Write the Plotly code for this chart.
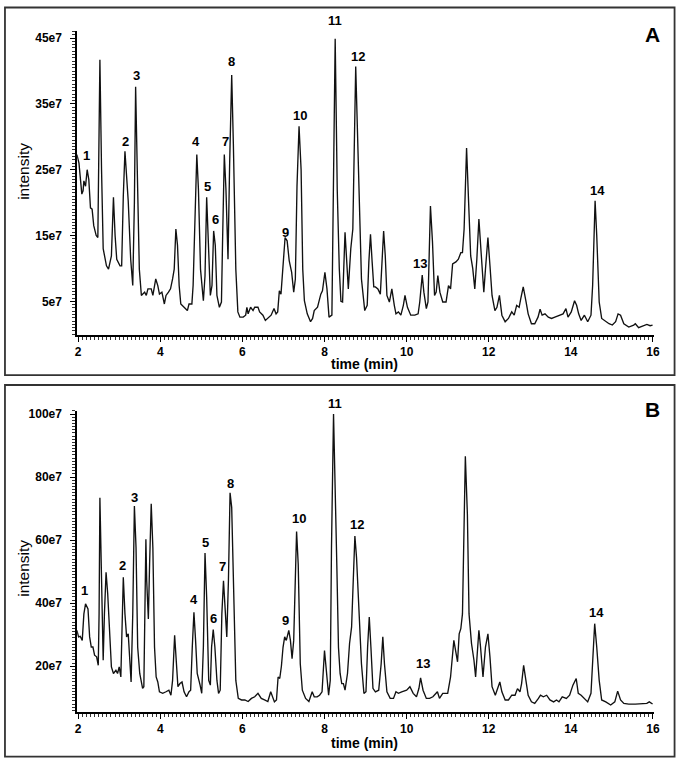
import plotly.graph_objects as go

W, H = 686, 762

# ---------------- Panel A data (intensity in units of 1e7) ----------------
time_A = [1.97, 2.02, 2.09, 2.12, 2.14, 2.18, 2.22, 2.26, 2.30, 2.34, 2.38, 2.44, 2.48, 2.53, 2.57,
          2.61, 2.69, 2.74, 2.81, 2.86, 2.90, 2.94, 3.02, 3.06, 3.10, 3.14, 3.18, 3.22, 3.28, 3.33,
          3.37, 3.40, 3.44, 3.49, 3.54, 3.62, 3.66, 3.70, 3.78, 3.82, 3.89, 3.94, 3.98, 4.04, 4.10,
          4.14, 4.20, 4.25, 4.30, 4.34, 4.38, 4.42, 4.46, 4.50, 4.58, 4.66, 4.70, 4.77, 4.80, 4.85,
          4.89, 4.93, 4.98, 5.05, 5.09, 5.13, 5.17, 5.22, 5.26, 5.30, 5.34, 5.38, 5.44, 5.49, 5.52,
          5.56, 5.60, 5.65, 5.69, 5.74, 5.78, 5.84, 5.89, 5.94, 6.02, 6.08, 6.11, 6.14, 6.20, 6.26,
          6.30, 6.38, 6.42, 6.50, 6.56, 6.64, 6.70, 6.77, 6.82, 6.86, 6.90, 6.94, 6.98, 7.04, 7.09,
          7.14, 7.20, 7.25, 7.29, 7.33, 7.38, 7.43, 7.47, 7.51, 7.58, 7.66, 7.71, 7.75, 7.83, 7.91,
          7.95, 8.01, 8.06, 8.11, 8.18, 8.22, 8.26, 8.31, 8.36, 8.40, 8.44, 8.50, 8.54, 8.58, 8.64,
          8.69, 8.76, 8.82, 8.90, 8.98, 9.04, 9.08, 9.12, 9.16, 9.20, 9.24, 9.30, 9.36, 9.40, 9.44,
          9.48, 9.52, 9.58, 9.64, 9.70, 9.74, 9.80, 9.86, 9.92, 9.96, 10.02, 10.10, 10.20, 10.28, 10.32,
          10.38, 10.42, 10.48, 10.52, 10.58, 10.63, 10.68, 10.72, 10.76, 10.81, 10.88, 10.96, 11.02, 11.07, 11.12,
          11.20, 11.26, 11.32, 11.36, 11.40, 11.46, 11.51, 11.56, 11.61, 11.66, 11.71, 11.76, 11.82, 11.88, 11.92,
          11.98, 12.03, 12.08, 12.15, 12.20, 12.26, 12.32, 12.40, 12.48, 12.56, 12.62, 12.68, 12.74, 12.78, 12.84,
          12.91, 12.96, 13.04, 13.12, 13.20, 13.25, 13.30, 13.37, 13.45, 13.53, 13.61, 13.73, 13.81, 13.88, 13.93,
          14.01, 14.09, 14.14, 14.19, 14.25, 14.33, 14.41, 14.49, 14.53, 14.59, 14.63, 14.69, 14.75, 14.85, 14.93,
          15.01, 15.09, 15.15, 15.21, 15.29, 15.41, 15.53, 15.57, 15.65, 15.77, 15.85, 15.93, 15.99]
inten_A = [27.3, 26.0, 21.3, 21.8, 23.3, 22.5, 25.0, 23.5, 19.2, 19.0, 16.5, 15.0, 14.7, 41.7, 25.0,
           13.0, 10.4, 9.9, 11.9, 20.8, 15.0, 11.4, 10.4, 10.4, 21.0, 27.8, 24.0, 20.2, 11.4, 7.4,
           20.0, 37.6, 25.0, 9.9, 5.9, 6.4, 5.9, 6.9, 6.9, 5.9, 8.4, 7.4, 6.1, 6.4, 4.6,
           5.9, 6.4, 6.9, 8.4, 9.9, 16.0, 13.5, 7.4, 4.6, 4.1, 3.6, 4.6, 4.6, 7.4, 20.0,
           27.3, 22.0, 9.9, 5.1, 8.9, 20.8, 15.0, 5.9, 7.4, 15.7, 13.5, 5.9, 4.1, 4.9, 15.0,
           27.3, 22.0, 11.4, 26.0, 39.4, 29.0, 9.9, 3.4, 2.6, 2.6, 2.9, 4.1, 3.1, 4.1, 3.6,
           4.1, 4.1, 3.4, 2.9, 2.1, 2.6, 2.9, 3.9, 3.1, 3.4, 6.6, 6.1, 9.9, 14.7, 14.2,
           11.2, 9.4, 6.4, 8.4, 22.5, 31.6, 25.0, 9.9, 5.1, 3.1, 1.9, 2.4, 3.6, 4.1, 6.1,
           6.6, 9.4, 6.9, 2.6, 2.9, 25.0, 44.9, 22.0, 10.0, 5.0, 4.9, 15.5, 11.0, 6.9, 13.0,
           16.0, 40.7, 25.0, 8.4, 3.6, 4.4, 11.0, 15.2, 11.0, 7.2, 7.2, 6.9, 6.1, 11.9, 15.7,
           11.9, 5.9, 4.9, 6.9, 4.4, 3.1, 3.4, 2.9, 4.4, 5.9, 4.1, 2.9, 2.9, 3.1, 4.9,
           9.0, 6.4, 3.9, 4.9, 19.5, 14.0, 5.9, 6.4, 8.9, 6.4, 4.9, 4.9, 7.4, 6.9, 10.7,
           11.0, 11.4, 12.4, 12.4, 16.0, 28.3, 20.0, 11.9, 10.0, 6.9, 11.4, 17.5, 11.9, 6.4, 9.9,
           14.7, 10.4, 5.9, 3.6, 4.1, 5.9, 2.9, 1.9, 2.4, 3.4, 2.9, 4.4, 4.1, 5.4, 7.2,
           4.9, 3.1, 1.6, 1.6, 2.6, 3.8, 2.9, 3.1, 2.6, 2.4, 2.6, 2.9, 3.1, 3.9, 2.6,
           3.4, 5.1, 4.4, 3.1, 2.1, 2.9, 1.9, 2.9, 7.4, 20.3, 15.0, 4.9, 2.4, 1.9, 1.6,
           1.4, 1.9, 3.1, 2.9, 1.6, 1.1, 1.4, 1.6, 1.0, 1.3, 1.5, 1.3, 1.4]

# ---------------- Panel B data (intensity in units of 1e7) ----------------
time_B = [1.97, 2.01, 2.05, 2.10, 2.14, 2.18, 2.24, 2.28, 2.32, 2.36, 2.40, 2.45, 2.49, 2.51, 2.53,
          2.56, 2.61, 2.64, 2.68, 2.72, 2.77, 2.81, 2.86, 2.92, 2.96, 3.00, 3.04, 3.07, 3.10, 3.14,
          3.18, 3.22, 3.25, 3.29, 3.33, 3.37, 3.41, 3.45, 3.50, 3.57, 3.60, 3.65, 3.67, 3.71, 3.74,
          3.78, 3.82, 3.86, 3.90, 3.94, 3.98, 4.06, 4.14, 4.21, 4.26, 4.30, 4.35, 4.39, 4.43, 4.48,
          4.53, 4.58, 4.64, 4.70, 4.74, 4.78, 4.82, 4.86, 4.90, 4.97, 5.01, 5.05, 5.09, 5.13, 5.18,
          5.22, 5.25, 5.29, 5.33, 5.38, 5.42, 5.46, 5.50, 5.54, 5.58, 5.62, 5.66, 5.70, 5.74, 5.79,
          5.84, 5.90, 5.98, 6.06, 6.14, 6.22, 6.30, 6.38, 6.46, 6.54, 6.62, 6.69, 6.74, 6.78, 6.83,
          6.87, 6.91, 6.95, 6.99, 7.03, 7.07, 7.13, 7.17, 7.21, 7.25, 7.28, 7.32, 7.36, 7.41, 7.46,
          7.54, 7.62, 7.70, 7.75, 7.82, 7.88, 7.94, 8.00, 8.05, 8.10, 8.14, 8.17, 8.22, 8.26, 8.30,
          8.34, 8.38, 8.42, 8.46, 8.50, 8.56, 8.61, 8.66, 8.70, 8.74, 8.78, 8.84, 8.90, 8.96, 9.01,
          9.05, 9.09, 9.13, 9.18, 9.24, 9.32, 9.38, 9.42, 9.46, 9.52, 9.60, 9.68, 9.74, 9.80, 9.88,
          10.00, 10.08, 10.16, 10.24, 10.30, 10.34, 10.40, 10.48, 10.56, 10.64, 10.75, 10.80, 10.88, 11.00, 11.07,
          11.15, 11.20, 11.24, 11.28, 11.32, 11.36, 11.40, 11.43, 11.48, 11.52, 11.58, 11.64, 11.68, 11.72, 11.76,
          11.80, 11.86, 11.92, 11.98, 12.03, 12.08, 12.16, 12.22, 12.27, 12.32, 12.40, 12.48, 12.56, 12.64, 12.70,
          12.76, 12.80, 12.85, 12.91, 12.96, 13.04, 13.12, 13.21, 13.26, 13.33, 13.41, 13.49, 13.58, 13.65, 13.71,
          13.79, 13.89, 13.97, 14.05, 14.13, 14.18, 14.25, 14.33, 14.41, 14.49, 14.54, 14.58, 14.63, 14.69, 14.75,
          14.85, 14.97, 15.07, 15.14, 15.21, 15.29, 15.41, 15.57, 15.73, 15.85, 15.91, 15.99]
inten_B = [31.4, 29.3, 29.5, 28.2, 36.6, 39.8, 38.2, 29.3, 26.1, 26.1, 23.5, 23.0, 20.3, 36.6, 73.4,
           57.6, 21.9, 36.6, 49.8, 43.0, 27.2, 19.8, 17.7, 18.7, 17.7, 19.8, 16.6, 36.6, 48.2, 36.6,
           29.3, 30.3, 24.0, 15.0, 36.6, 70.8, 57.6, 26.1, 17.7, 13.0, 13.5, 60.3, 47.1, 35.0, 52.3,
           71.5, 57.6, 26.1, 16.6, 15.0, 11.9, 11.4, 11.9, 12.4, 10.8, 15.5, 29.8, 20.8, 13.5, 14.5,
           15.0, 11.9, 10.3, 11.9, 12.4, 26.1, 37.1, 28.2, 17.7, 14.0, 11.4, 26.1, 55.9, 41.9, 15.5,
           14.0, 26.1, 31.6, 26.1, 15.5, 11.4, 12.4, 36.6, 47.1, 38.6, 29.3, 47.1, 75.0, 70.3, 41.9,
           15.5, 9.8, 9.3, 9.3, 8.8, 9.8, 10.3, 11.4, 9.8, 9.3, 8.8, 11.9, 10.3, 8.7, 9.3,
           16.6, 16.1, 20.0, 26.0, 29.3, 28.2, 31.4, 28.2, 22.4, 28.2, 47.1, 62.7, 52.3, 20.8, 12.4,
           9.8, 8.8, 11.9, 10.3, 10.3, 10.8, 11.9, 25.0, 18.7, 10.8, 15.5, 57.6, 100.0, 78.7, 52.0,
           26.0, 17.7, 14.5, 14.5, 12.4, 17.7, 27.2, 32.5, 47.1, 61.3, 54.5, 36.6, 20.8, 11.4, 11.9,
           26.1, 35.6, 26.1, 13.0, 11.9, 12.4, 20.8, 29.3, 20.8, 11.9, 9.8, 9.8, 11.9, 11.4, 11.9,
           12.4, 13.5, 11.4, 10.3, 13.0, 16.3, 12.4, 9.8, 9.8, 10.3, 11.9, 9.8, 11.4, 11.4, 16.6,
           28.2, 25.0, 21.4, 30.3, 31.9, 36.6, 68.1, 86.6, 68.1, 36.6, 27.2, 21.9, 16.6, 26.1, 31.4,
           26.1, 16.6, 26.1, 30.3, 22.9, 13.5, 10.8, 13.5, 15.0, 11.9, 9.3, 9.3, 10.8, 10.8, 12.9,
           11.9, 14.5, 20.3, 14.5, 10.8, 8.7, 8.2, 9.8, 10.8, 10.3, 10.8, 9.3, 8.7, 9.3, 8.7,
           10.3, 9.8, 10.8, 14.0, 16.1, 11.4, 10.8, 9.8, 8.7, 11.4, 26.1, 33.5, 26.1, 15.5, 9.3,
           8.7, 7.7, 8.7, 12.1, 9.3, 8.2, 8.0, 8.0, 8.0, 8.2, 8.7, 8.0]

# ---------------- Peak labels ----------------
peak_names = [str(i) for i in range(1, 15)]
label_time_A = [2.21, 3.15, 3.41, 4.88, 5.16, 5.34, 5.58, 5.745, 7.04, 7.40, 8.26, 8.81, 10.33, 14.65]
label_val_A = [27.1, 29.3, 39.3, 29.3, 22.4, 17.5, 29.3, 41.5, 15.4, 33.3, 47.6, 42.2, 10.8, 21.8]
label_time_B = [2.15, 3.09, 3.38, 4.81, 5.10, 5.30, 5.52, 5.70, 7.04, 7.39, 8.25, 8.78, 10.40, 14.62]
label_val_B = [44.0, 51.9, 73.6, 41.3, 59.2, 35.0, 51.5, 78.1, 34.5, 66.8, 103.4, 65.0, 20.8, 37.1]

x_ticks = [2, 4, 6, 8, 10, 12, 14, 16]
y_ticks_A = [5, 15, 25, 35, 45]
y_ticks_B = [20, 40, 60, 80, 100]
y_ticktext_A = [f"{v}e7" for v in y_ticks_A]
y_ticktext_B = [f"{v}e7" for v in y_ticks_B]

FONT = "Arial, 'Liberation Sans', sans-serif"
YR_A = [-0.15, 46.1]
YR_B = [5.4, 101]
DOM_A = [1 - 333 / H, 1 - 27 / H]
DOM_B = [1 - 712 / H, 1 - 409 / H]


def px_x(p):
    return p / W


def px_y(p):
    return 1 - p / H


fig = go.Figure()
fig.add_trace(go.Scatter(x=time_A, y=inten_A, mode="lines", xaxis="x", yaxis="y",
                         line=dict(color="#111111", width=1.35), showlegend=False))
fig.add_trace(go.Scatter(x=time_B, y=inten_B, mode="lines", xaxis="x2", yaxis="y2",
                         line=dict(color="#111111", width=1.35), showlegend=False))

xcommon = dict(range=[1.975, 16.02], showline=True, linecolor="black", linewidth=1.5,
               ticks="outside", ticklen=5, tickwidth=1.3, tickcolor="black",
               tickvals=x_ticks, ticktext=[str(v) for v in x_ticks], ticklabelstandoff=0,
               tickfont=dict(family=FONT, size=12, color="black", weight="bold"),
               minor=dict(dtick=0.1, ticklen=2.5, tickwidth=0.8, tickcolor="#333", ticks="outside"),
               showgrid=False, zeroline=False, domain=[px_x(76), px_x(659.5)])
ycommon = dict(showline=True, linecolor="black", linewidth=1.5,
               ticks="outside", ticklen=5, tickwidth=1.3, tickcolor="black", ticklabelstandoff=6,
               tickfont=dict(family=FONT, size=12, color="black", weight="bold"),
               showgrid=False, zeroline=False)

fig.update_layout(
    width=W, height=H, margin=dict(l=0, r=0, t=0, b=0),
    paper_bgcolor="white", plot_bgcolor="white",
    xaxis=dict(**xcommon, anchor="y"),
    yaxis=dict(**ycommon, range=YR_A, domain=DOM_A,
               tickvals=y_ticks_A, ticktext=y_ticktext_A, anchor="x",
               minor=dict(dtick=0.5, ticklen=3.5, tickwidth=0.8, tickcolor="#333", ticks="outside")),
    xaxis2=dict(**xcommon, anchor="y2"),
    yaxis2=dict(**ycommon, range=YR_B, domain=DOM_B,
                tickvals=y_ticks_B, ticktext=y_ticktext_B, anchor="x2",
                minor=dict(dtick=1, ticklen=3.5, tickwidth=0.8, tickcolor="#333", ticks="outside")),
)

# frame boxes around each panel
for (y0, y1) in [(373, 3.5), (756.5, 383)]:
    fig.add_shape(type="rect", xref="paper", yref="paper",
                  x0=px_x(3), x1=px_x(680.5), y0=px_y(y0), y1=px_y(y1),
                  line=dict(color="#333333", width=1.8), fillcolor="rgba(0,0,0,0)")

annots = []


def add_peak_labels(names, times, vals, xref, yref, yrange, dom):
    ppu = (dom[1] - dom[0]) * H / (yrange[1] - yrange[0])  # pixels per unit
    top = yrange[1] - 0.5
    for name, t, v in zip(names, times, vals):
        y = min(v, top)
        annots.append(dict(x=t, y=y, xref=xref, yref=yref, text=name, showarrow=False,
                           xanchor="center", yanchor="middle", yshift=(v - y) * ppu,
                           font=dict(family=FONT, size=13, color="black", weight="bold")))


add_peak_labels(peak_names, label_time_A, label_val_A, "x", "y", YR_A, DOM_A)
add_peak_labels(peak_names, label_time_B, label_val_B, "x2", "y2", YR_B, DOM_B)

for (ty, ay, panel, py) in [(168, 362, "A", 31), (567, 743, "B", 408)]:
    annots.append(dict(x=px_x(21), y=px_y(ty), xref="paper", yref="paper", text="intensity",
                       textangle=-90, showarrow=False, xanchor="center", yanchor="middle",
                       font=dict(family=FONT, size=15.5, color="black")))
    annots.append(dict(x=px_x(367), y=px_y(ay), xref="paper", yref="paper", text="time (min)",
                       showarrow=False, xanchor="center", yanchor="middle",
                       font=dict(family=FONT, size=14, color="black", weight="bold")))
    annots.append(dict(x=px_x(658), y=px_y(py), xref="paper", yref="paper", text=panel,
                       showarrow=False, xanchor="center", yanchor="middle",
                       font=dict(family=FONT, size=21, color="black", weight="bold")))

fig.update_layout(annotations=annots)
fig.write_html("out.html", config={"displayModeBar": False},
               post_script="document.body.style.margin='0';document.body.style.overflow='hidden';")
